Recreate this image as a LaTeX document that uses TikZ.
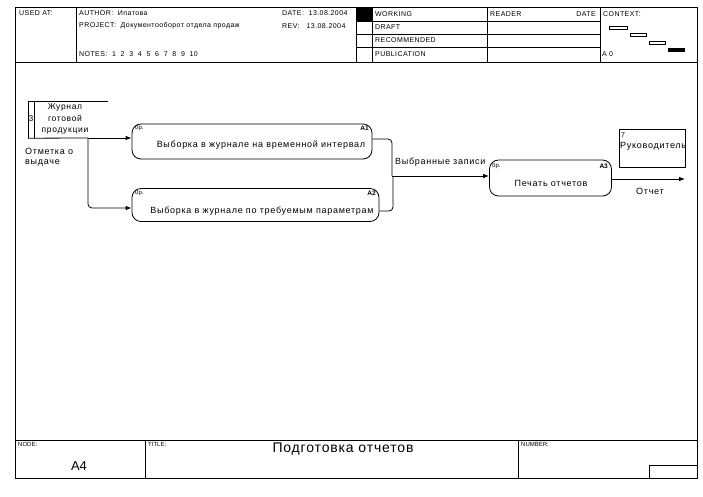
\documentclass[tikz,border=0pt]{standalone}
\usepackage{fontspec}
\setmainfont{Liberation Sans}
\newfontfamily\spc[LetterSpace=8]{Liberation Sans}
\newfontfamily\hsp[LetterSpace=6]{Liberation Sans}
\usetikzlibrary{arrows.meta,calc}
\begin{document}
\begin{tikzpicture}[x=1pt,y=-1pt,
  frame/.style={line width=0.9pt},
  hdr/.style={font=\hsp\fontsize{7}{8}\selectfont, anchor=west, inner sep=0pt},
  ftr/.style={font=\fontsize{6}{7}\selectfont, anchor=west, inner sep=0pt},
  proc/.style={draw, line width=0.8pt, rounded corners=9pt, inner sep=0pt},
  ptext/.style={font=\spc\fontsize{9}{10}\selectfont, inner sep=0pt},
  tag/.style={font=\fontsize{6}{7}\selectfont, inner sep=0pt},
  arr/.style={line width=0.8pt, rounded corners=4pt, -{Latex[length=6pt,width=4.5pt]}},
  conn/.style={line width=0.8pt, rounded corners=4pt},
  lab/.style={font=\spc\fontsize{9}{10}\selectfont, inner sep=0pt, anchor=west}]
\useasboundingbox[fill=white] (0,0) rectangle (703,496);
% ---- frame ----
\draw[frame] (15,7) rectangle (697,478);
\draw[frame] (15,62) -- (697,62);
\draw[frame] (15,440) -- (697,440);
\draw[frame] (76,7) -- (76,62);
\draw[frame] (356,7) -- (356,62);
\draw[frame] (372,7) -- (372,62);
\draw[frame] (487,7) -- (487,62);
\draw[frame] (600,7) -- (600,62);
\draw[frame] (356,21) -- (600,21);
\draw[frame] (356,34) -- (600,34);
\draw[frame] (356,47) -- (600,47);
\fill (356,7) rectangle (372,21);
\draw[frame] (145,440) -- (145,478);
\draw[frame] (518,440) -- (518,478);
\draw[frame] (649,465) rectangle (697,478);
% ---- header texts ----
\node[hdr] (usedat) at (19,13) {USED AT:};
\node[hdr] (author) at (79,13) {AUTHOR:\ \ Ипатова};
\node[hdr] (project) at (79,26) {PROJECT:\ \ Документооборот отдела продаж};
\node[hdr] (notes) at (79,54) {NOTES:\ \ 1\ \ 2\ \ 3\ \ 4\ \ 5\ \ 6\ \ 7\ \ 8\ \ 9\ \ 10};
\node[hdr] (date) at (282,13) {DATE:\ \ 13.08.2004};
\node[hdr] (rev) at (282,26) {REV:\ \ \ 13.08.2004};
\node[hdr] (working) at (375,14) {WORKING};
\node[hdr] (draft) at (375,27.5) {DRAFT};
\node[hdr] (recom) at (375,40.5) {RECOMMENDED};
\node[hdr] (publ) at (375,54.5) {PUBLICATION};
\node[hdr] (reader) at (490,14) {READER};
\node[hdr,anchor=east] (rdate) at (596,14) {DATE};
\node[hdr] (context) at (603,14) {CONTEXT:};
\node[hdr] (a0) at (602,54.5) {A 0};
\draw[line width=0.7pt] (609,26.5) rectangle (627,29.5);
\draw[line width=0.7pt] (630,33.5) rectangle (646,36.5);
\draw[line width=0.7pt] (649,41) rectangle (665,44);
\fill (668,48) rectangle (685,51.5);
% ---- footer texts ----
\node[ftr] (nodel) at (18,444) {NODE:};
\node[ftr] (titlel) at (148,444) {TITLE:};
\node[ftr] (numl) at (521,444) {NUMBER:};
\node[font=\fontsize{13}{14}\selectfont, inner sep=0pt] (a4) at (79,466) {A4};
\node[font=\hsp\fontsize{14}{15}\selectfont, inner sep=0pt] (title) at (343,449) {Подготовка отчетов};
% ---- store ----
\node[inner sep=0pt, minimum width=80pt, minimum height=37pt] (store) at (68,119.5) {};
\draw[line width=0.8pt] (108,101) -- (28,101) -- (28,138);
\draw[line width=0.8pt] (34,101) -- (34,138);
\node[font=\fontsize{8.5}{9}\selectfont, inner sep=0pt] (storeid) at (31,119) {3};
\node[font=\spc\fontsize{8.5}{11.5}\selectfont, align=center, inner sep=0pt] (storetext) at (65,119) {Журнал\\готовой\\продукции};
% ---- processes ----
\node[proc, minimum width=240pt, minimum height=35pt] (a1) at (252,141.5) {};
\node[ptext] (a1t) at (261,145) {Выборка в журнале на временной интервал};
\node[tag, anchor=west] (a1n) at (135,128.5) {0р.};
\node[tag, anchor=east, font=\bfseries\fontsize{6.5}{7}\selectfont] (a1id) at (369,128.5) {A1};
\node[proc, minimum width=247pt, minimum height=33pt] (a2) at (255.5,205) {};
\node[ptext] (a2t) at (262,211) {Выборка в журнале по требуемым параметрам};
\node[tag, anchor=west] (a2n) at (135,193) {0р.};
\node[tag, anchor=east, font=\bfseries\fontsize{6.5}{7}\selectfont] (a2id) at (376,193) {A2};
\node[proc, minimum width=122pt, minimum height=36pt] (a3) at (550.5,178) {};
\node[ptext] (a3t) at (551,183) {Печать отчетов};
\node[tag, anchor=west] (a3n) at (492,166) {0р.};
\node[tag, anchor=east, font=\bfseries\fontsize{6.5}{7}\selectfont] (a3id) at (608,166) {A3};
% ---- external ----
\node[draw, line width=1.8pt, minimum width=66pt, minimum height=38pt, inner sep=0pt] (boss) at (652.5,148.5) {};
\node[font=\fontsize{7}{8}\selectfont, anchor=west, inner sep=0pt] (bossid) at (621,135.5) {7};
\node[font=\spc\fontsize{9}{10}\selectfont, anchor=west, inner sep=0pt] (bosst) at (620,146) {Руководитель};
% ---- connectors ----
\coordinate (br) at (88,138);
\coordinate (j) at (392,176);
\coordinate (out) at (685,179);
\draw[line width=0.8pt] (store.south west) -- (br);
\draw[arr] (br) -- (a1.west |- br);
\draw[arr] (br) |- ([yshift=-3pt]a2.west);
\draw[conn] ([yshift=2.5pt]a1.east) -| (j);
\draw[conn] ([yshift=-6pt]a2.east) -| ([xshift=1pt]j);
\draw[arr] (j) -- (j -| a3.west);
\draw[arr] ([yshift=-1pt]a3.east) -- (out);
% ---- labels ----
\node[lab, align=left] (lbl1) at (25,157) {Отметка о\\выдаче};
\node[lab] (lbl2) at (395,162) {Выбранные записи};
\node[lab] (lbl3) at (636,191) {Отчет};
\end{tikzpicture}
\end{document}
